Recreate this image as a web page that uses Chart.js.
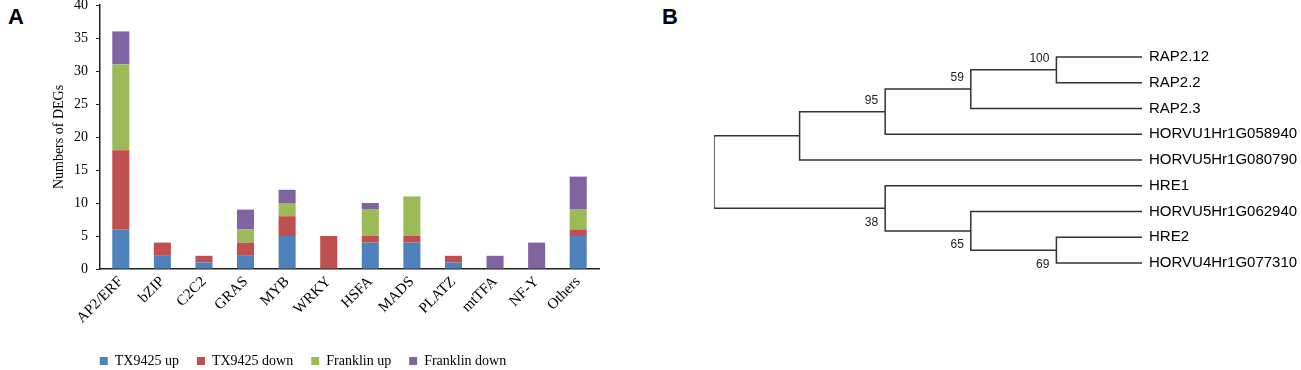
<!DOCTYPE html>
<html>
<head>
<meta charset="utf-8">
<script src="https://cdn.jsdelivr.net/npm/chart.js@4"></script>
<style>
  body { margin: 0; background: #fff; width: 1301px; height: 370px; position: relative; overflow: hidden; }
  .panel { position: absolute; font-family: 'Liberation Sans', Arial, sans-serif; font-weight: bold; font-size: 22px; color: #000; }
  #wrapA { position: absolute; left: 0; top: 0; width: 612px; height: 370px; }
  #wrapB { position: absolute; left: 650px; top: 0; width: 651px; height: 370px; }
</style>
</head>
<body>
<div class="panel" style="left:8px;top:4px">A</div>
<div class="panel" style="left:662px;top:4px">B</div>
<div id="wrapA"><canvas id="barChart"></canvas></div>
<div id="wrapB"><canvas id="treeChart"></canvas></div>
<script>
// panel A: DEG counts per TF family
var families = ['AP2/ERF', 'bZIP', 'C2C2', 'GRAS', 'MYB', 'WRKY', 'HSFA', 'MADS', 'PLATZ', 'mtTFA', 'NF-Y', 'Others'];
var tx9425Up     = [6, 2, 1, 2, 5, 0, 4, 4, 1, 0, 0, 5];
var tx9425Down   = [12, 2, 1, 2, 3, 5, 1, 1, 1, 0, 0, 1];
var franklinUp   = [13, 0, 0, 2, 2, 0, 4, 6, 0, 0, 0, 3];
var franklinDown = [5, 0, 0, 3, 2, 0, 1, 0, 0, 2, 4, 5];
var yTicks = [0, 5, 10, 15, 20, 25, 30, 35, 40];

// panel B: cladogram, leaves are indexes into leafNames
var leafNames = ['RAP2.12', 'RAP2.2', 'RAP2.3', 'HORVU1Hr1G058940', 'HORVU5Hr1G080790',
                 'HRE1', 'HORVU5Hr1G062940', 'HRE2', 'HORVU4Hr1G077310'];
var tree = {support: null, children: [
  {support: null, children: [
    {support: 95, children: [
      {support: 59, children: [{support: 100, children: [0, 1]}, 2]},
      3]},
    4]},
  {support: 38, children: [5, {support: 65, children: [6, {support: 69, children: [7, 8]}]}]}
]};

var serif = "'Liberation Serif', 'Times New Roman', serif";
var sans = "'Liberation Sans', Arial, sans-serif";
var axisColor = '#222';

new Chart(document.getElementById('barChart'), {
  type: 'bar',
  data: {
    labels: families,
    datasets: [
      {label: 'TX9425 up', data: tx9425Up, backgroundColor: '#4F81BD'},
      {label: 'TX9425 down', data: tx9425Down, backgroundColor: '#C0504D'},
      {label: 'Franklin up', data: franklinUp, backgroundColor: '#9BBB59'},
      {label: 'Franklin down', data: franklinDown, backgroundColor: '#8064A2'}
    ]
  },
  options: {
    responsive: true,
    maintainAspectRatio: false,
    animation: false,
    datasets: { bar: { barPercentage: 0.41, categoryPercentage: 1 } },
    layout: { padding: { left: 7, top: 0, right: 13, bottom: -8 } },
    plugins: {
      tooltip: { enabled: false },
      legend: {
        position: 'bottom',
        labels: { boxWidth: 8, boxHeight: 8, padding: 18, color: '#000', font: { family: serif, size: 14 } }
      }
    },
    scales: {
      x: {
        stacked: true,
        afterFit: function (axis) { axis.height += 5; },
        grid: { display: false, drawTicks: false },
        border: { color: axisColor, width: 1.5 },
        ticks: { minRotation: 45, maxRotation: 45, autoSkip: false, padding: 4, color: '#000', font: { family: serif, size: 15 } }
      },
      y: {
        stacked: true,
        min: yTicks[0],
        max: yTicks[yTicks.length - 1],
        afterBuildTicks: function (axis) { axis.ticks = yTicks.map(function (v) { return {value: v}; }); },
        afterFit: function (axis) { axis.width = 93; axis.paddingTop = 5; },
        grid: { drawOnChartArea: false, tickLength: 4, color: axisColor },
        border: { color: axisColor, width: 1.5 },
        ticks: { padding: 8, color: '#000', font: { family: serif, size: 14 } },
        title: { display: true, text: 'Numbers of DEGs', color: '#000', font: { family: serif, size: 14 }, padding: { top: 44, bottom: 0 } }
      }
    }
  }
});

// lay out the cladogram: x = depth (leaves aligned at the right), y = leaf order
function height(n) {
  if (typeof n === 'number') return 0;
  return 1 + Math.max.apply(null, n.children.map(height));
}
var maxH = height(tree);
var branches = [];
var supports = [];
function place(n) {
  if (typeof n === 'number') return {x: maxH, y: n};
  var kids = n.children.map(place);
  var p = {x: maxH - height(n), y: (kids[0].y + kids[kids.length - 1].y) / 2};
  kids.forEach(function (k) {
    branches.push([{x: p.x, y: p.y}, {x: p.x, y: k.y}, {x: k.x, y: k.y}]);
  });
  if (n.support != null) supports.push({x: p.x, y: p.y, text: String(n.support)});
  return p;
}
var rootPos = place(tree);

var supportLabels = {
  id: 'supportLabels',
  afterDatasetsDraw: function (chart) {
    var ctx = chart.ctx, xs = chart.scales.x, ys = chart.scales.y;
    ctx.save();
    ctx.fillStyle = '#222';
    ctx.font = '12px ' + sans;
    ctx.textAlign = 'right';
    ctx.textBaseline = 'middle';
    supports.forEach(function (s) {
      var px = xs.getPixelForValue(s.x) - 7;
      var py = ys.getPixelForValue(s.y) + (s.y < rootPos.y ? -11 : 14);
      ctx.fillText(s.text, px, py);
    });
    ctx.restore();
  }
};

new Chart(document.getElementById('treeChart'), {
  type: 'scatter',
  data: {
    datasets: branches.map(function (b) {
      return { data: b, showLine: true, borderColor: '#333', borderWidth: 1.5, pointRadius: 0, tension: 0 };
    })
  },
  options: {
    responsive: true,
    maintainAspectRatio: false,
    animation: false,
    layout: { padding: { left: 64, top: 44, bottom: 94, right: 0 } },
    plugins: { legend: { display: false }, tooltip: { enabled: false } },
    scales: {
      x: { type: 'linear', min: 0, max: maxH, display: false },
      y: {
        type: 'linear',
        position: 'right',
        reverse: true,
        min: -0.5,
        max: leafNames.length - 0.5,
        afterBuildTicks: function (axis) { axis.ticks = leafNames.map(function (n, i) { return {value: i}; }); },
        afterFit: function (axis) { axis.width = 159; },
        grid: { display: false, drawTicks: false },
        border: { display: false },
        ticks: {
          autoSkip: false, padding: 7, color: '#000', font: { family: sans, size: 15 },
          callback: function (v, i) { return leafNames[i]; }
        }
      }
    }
  },
  plugins: [supportLabels]
});
</script>
</body>
</html>
